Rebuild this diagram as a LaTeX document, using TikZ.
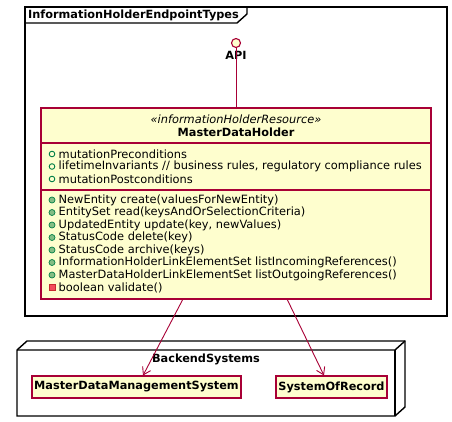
\documentclass[tikz,border=0pt]{standalone}
\usepackage{fontspec}
\setmainfont{DejaVu Sans}
\usetikzlibrary{arrows.meta}
\definecolor{umlborder}{HTML}{A80036}
\definecolor{umlfill}{HTML}{FEFECE}
\definecolor{publine}{HTML}{038048}
\definecolor{pubfill}{HTML}{84BE84}
\definecolor{privline}{HTML}{C82930}
\definecolor{privfill}{HTML}{F24D5C}
\tikzset{
  umlbox/.style={draw=umlborder, fill=umlfill, line width=1.2pt},
  memb/.style={anchor=west, inner sep=0pt, font=\fontsize{11.4}{12}\selectfont},
  boldlbl/.style={inner sep=0pt, font=\fontsize{11.3}{12}\selectfont\bfseries},
  attricon/.style={draw=publine, fill=none, line width=0.9pt},
  methicon/.style={draw=publine, fill=pubfill, line width=0.7pt},
  privicon/.style={draw=privline, fill=privfill, line width=0.7pt},
  conn/.style={draw=umlborder, line width=0.9pt},
  tip/.style={-{Straight Barb[length=7pt,width=9pt]}},
  blackline/.style={line width=1.4pt}
}
\begin{document}
\begin{tikzpicture}[x=1pt,y=-1pt]
\useasboundingbox (0,0) rectangle (452,421);
% package frame
\draw[blackline, fill=white] (25,7) rectangle (447,316);
\draw[blackline] (25,23) -- (237,23) -- (247,14) -- (247,7);
\node[boldlbl, anchor=west] (frametitle) at (28,15.5) {InformationHolderEndpointTypes};
% interface
\node[circle, draw=umlborder, fill=umlfill, line width=1.1pt, minimum size=9pt, inner sep=0pt] (api) at (236,43) {};
\node[boldlbl] (apilbl) at (236,55) {API};
% class box
\draw[umlbox] (41,108) rectangle (431,299);
\coordinate (classtop) at (236,108);
\coordinate (classbl) at (183,299);
\coordinate (classbr) at (287,299);
\draw[umlborder, line width=1.2pt] (41,143) -- (431,143);
\draw[umlborder, line width=1.2pt] (41,190) -- (431,190);
\node[inner sep=0pt, font=\fontsize{11.4}{12}\selectfont\itshape] (stereo) at (236,119) {«informationHolderResource»};
\node[boldlbl] (cname) at (236,132) {MasterDataHolder};
% attributes
\foreach \yy/\txt [count=\i] in {154/mutationPreconditions, 166.5/{lifetimeInvariants // business rules, regulatory compliance rules}, 179/mutationPostconditions}{
  \draw[attricon] (52,\yy) circle (2.8pt);
  \node[memb] (attr\i) at (58.5,\yy) {\txt};
}
% methods
\foreach \yy/\txt [count=\i] in {200/NewEntity create(valuesForNewEntity), 212.5/EntitySet read(keysAndOrSelectionCriteria), 225/{UpdatedEntity update(key, newValues)}, 237.5/StatusCode delete(key), 250/StatusCode archive(keys), 262.5/InformationHolderLinkElementSet listIncomingReferences(), 275/MasterDataHolderLinkElementSet listOutgoingReferences()}{
  \draw[methicon] (52,\yy) circle (3pt);
  \node[memb] (meth\i) at (58.5,\yy) {\txt};
}
\draw[privicon] (49,284.5) rectangle (55,290.5);
\node[memb] (meth8) at (58.5,287.5) {boolean validate()};
% connector API -> class
\draw[conn] (api.south) -- (classtop);
% node BackendSystems
\draw[blackline, fill=white] (17,350) -- (27,341) -- (405,341) -- (405,407) -- (395,416) -- (17,416) -- cycle;
\draw[blackline] (17,350) -- (395,350) -- (405,341);
\draw[blackline] (395,350) -- (395,416);
\node[boldlbl] (backend) at (206,359) {BackendSystems};
\node[umlbox, boldlbl, minimum width=209pt, minimum height=22pt] (mdms) at (136.5,387) {MasterDataManagementSystem};
\node[umlbox, boldlbl, minimum width=111pt, minimum height=22pt] (sor) at (331.5,387) {SystemOfRecord};
% connectors
\draw[conn, tip] (classbl) -- (143,375.5);
\draw[conn, tip] (classbr) -- (324,375.5);
\end{tikzpicture}
\end{document}
